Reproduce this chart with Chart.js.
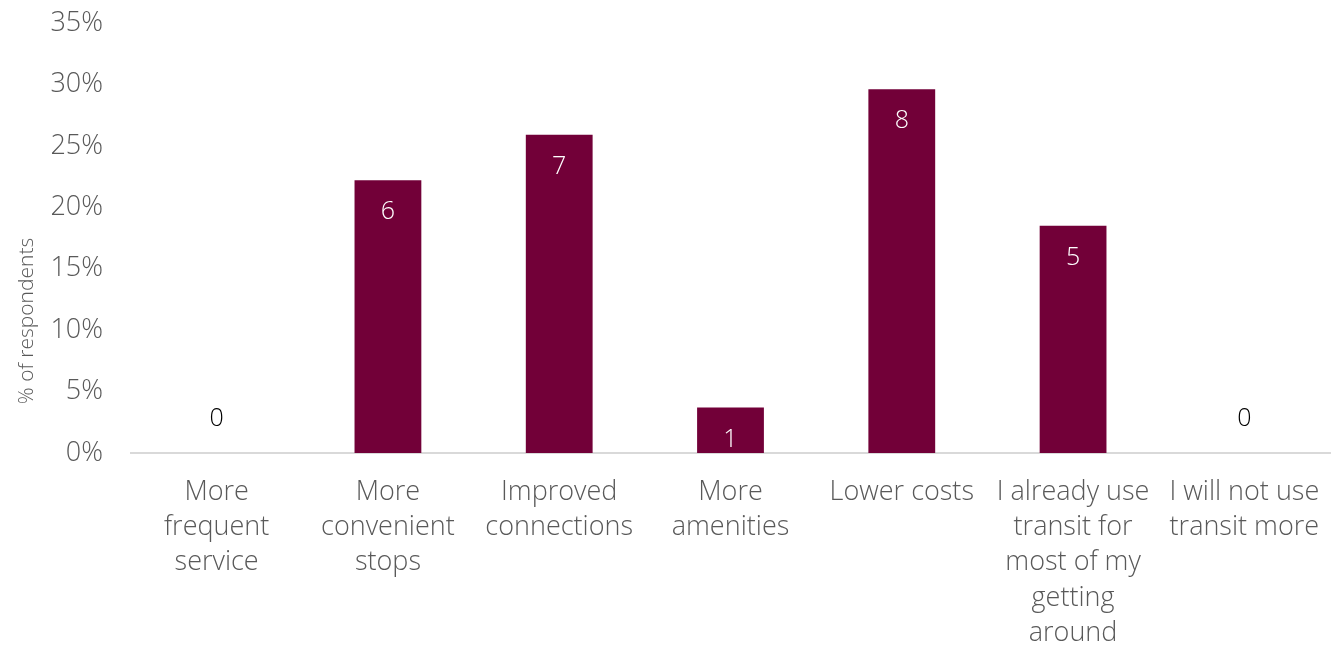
<!DOCTYPE html>
<html>
<head>
<meta charset="utf-8">
<script src="https://cdn.jsdelivr.net/npm/chart.js@4/dist/chart.umd.min.js"></script>
<style>
html,body{margin:0;padding:0;background:#fff;}
#wrap{width:1334px;height:648px;position:relative;}
</style>
</head>
<body>
<div id="wrap"><canvas id="c" width="1334" height="648"></canvas></div>
<script>
const categories = [
  ["More", "frequent", "service"],
  ["More", "convenient", "stops"],
  ["Improved", "connections"],
  ["More", "amenities"],
  ["Lower costs"],
  ["I already use", "transit for", "most of my", "getting", "around"],
  ["I will not use", "transit more"]
];
const percentValues = [0, 22.2, 25.9, 3.7, 29.6, 18.5, 0];
const countLabels = [0, 6, 7, 1, 8, 5, 0];
const yTicks = [0, 5, 10, 15, 20, 25, 30, 35];
const yTitle = "% of respondents";

const FONT = "'Open Sans', Lato, sans-serif";
const BAR = "#720038";

const labelPlugin = {
  id: 'countLabels',
  afterDatasetsDraw(chart) {
    const ctx = chart.ctx;
    const meta = chart.getDatasetMeta(0);
    ctx.save();
    ctx.font = "300 25px " + FONT;
    ctx.textAlign = "center";
    ctx.textBaseline = "middle";
    meta.data.forEach((el, i) => {
      const v = percentValues[i];
      if (v > 0) {
        ctx.fillStyle = "#ffffff";
        ctx.fillText(String(countLabels[i]), el.x, el.y + 32);
      } else {
        ctx.fillStyle = "#000000";
        ctx.fillText(String(countLabels[i]), el.x, el.base - 34);
      }
    });
    // y-axis title
    ctx.translate(33, 321);
    ctx.rotate(-Math.PI / 2);
    ctx.font = "300 21px " + FONT;
    ctx.textBaseline = "alphabetic";
    ctx.fillStyle = "#595959";
    ctx.fillText(yTitle, 0, 0);
    ctx.restore();
  }
};

new Chart(document.getElementById('c'), {
  type: 'bar',
  data: {
    labels: categories,
    datasets: [{
      data: percentValues,
      backgroundColor: BAR,
      borderWidth: 0,
      barPercentage: 0.39,
      categoryPercentage: 1.0
    }]
  },
  options: {
    responsive: false,
    animation: false,
    devicePixelRatio: 1,
    layout: { padding: { top: 23, right: 4, left: 0, bottom: 0 } },
    plugins: { legend: { display: false }, tooltip: { enabled: false } },
    scales: {
      x: {
        grid: { display: false, drawTicks: false },
        border: { display: true, color: "#d9d9d9", width: 2 },
        ticks: {
          color: "#595959",
          font: { family: FONT, size: 27, weight: 300, lineHeight: 1.3 },
          padding: 22,
          maxRotation: 0,
          autoSkip: false
        },
        afterFit(scale) { scale.height = 195; scale.paddingLeft = 0; scale.paddingRight = 0; }
      },
      y: {
        min: 0,
        max: 35,
        grid: { display: false, drawTicks: false },
        border: { display: false },
        afterBuildTicks(scale) { scale.ticks = yTicks.map(v => ({ value: v })); },
        ticks: {
          color: "#595959",
          font: { family: FONT, size: 27, weight: 300 },
          padding: 28,
          callback: (v) => v + "%"
        },
        title: { display: false },
        afterFit(scale) { scale.width = 131; scale.paddingTop = 0; scale.paddingBottom = 0; }
      }
    }
  },
  plugins: [labelPlugin]
});
</script>
</body>
</html>
